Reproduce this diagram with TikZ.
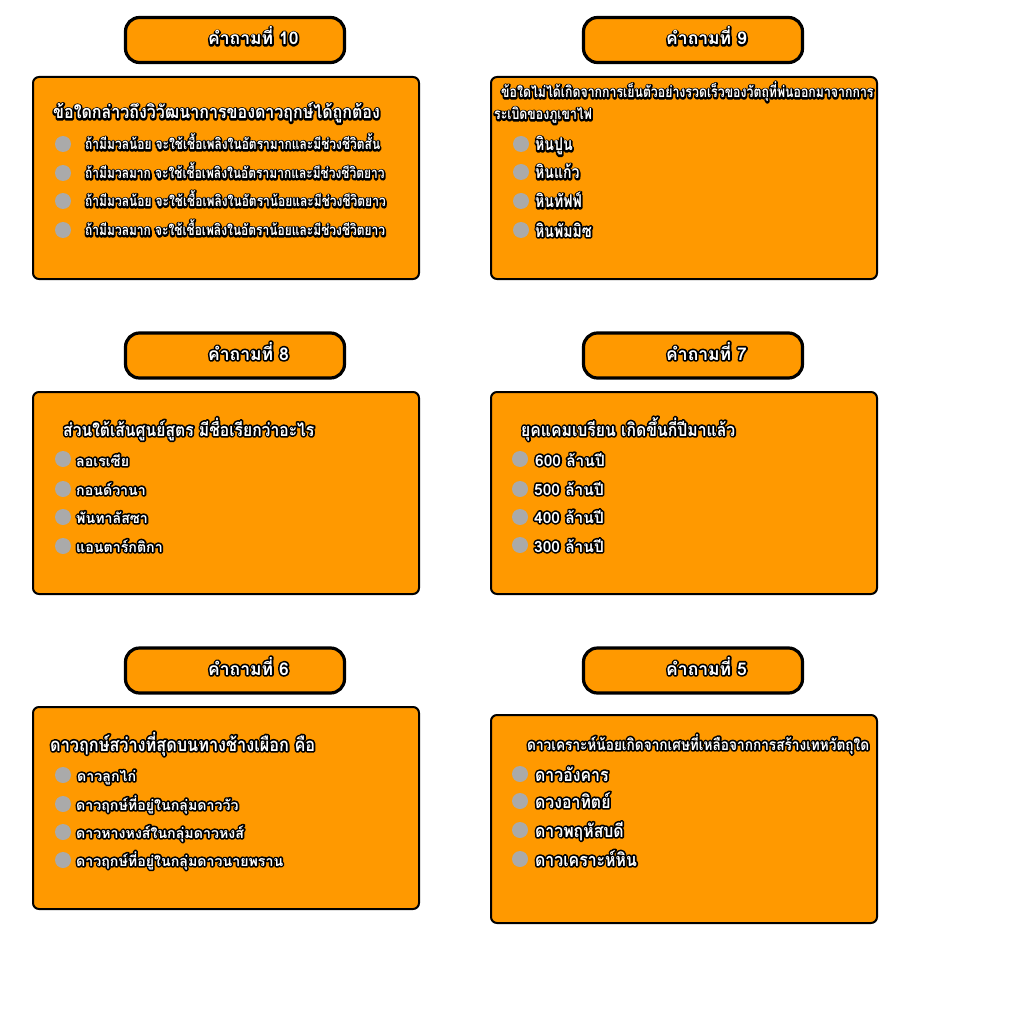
\documentclass[tikz,border=0pt]{standalone}
\usepackage{fontspec}
\newfontfamily\thaifont[Script=Thai]{Loma}
\newfontfamily\thainarrow[Script=Thai, FakeStretch=0.88]{Loma}
\newfontfamily\thaicond[Script=Thai, FakeStretch=0.8]{Loma}
\definecolor{quizorange}{HTML}{FF9900}
\definecolor{dotgrey}{HTML}{AAAAAA}
\tikzset{
	titlebox/.style={draw=black, line width=3.2pt, fill=quizorange, rounded corners=14pt, minimum width=219pt, minimum height=45pt, inner sep=0pt},
	quizbox/.style={draw=black, line width=2pt, fill=quizorange, rounded corners=6pt, minimum width=386pt, inner sep=0pt},
	radiodot/.style={circle, fill=dotgrey, inner sep=0pt, minimum size=16pt},
	ttext/.style={anchor=base west, inner sep=0pt, text=white, font=\thaifont\bfseries\fontsize{17.5}{20}\selectfont},
	qtext/.style={anchor=base west, inner sep=0pt, text=white, font=\thainarrow\bfseries\fontsize{#1}{20}\selectfont},
	qtext/.default=18,
	otext/.style={anchor=base west, inner sep=0pt, text=white, font=\thaifont\bfseries\fontsize{#1}{18}\selectfont},
	otext/.default=14.2,
	ntext/.style={anchor=base west, inner sep=0pt, text=white, font=\thainarrow\bfseries\fontsize{#1}{18}\selectfont},
	ctext/.style={anchor=base west, inner sep=0pt, text=white, font=\thaicond\bfseries\fontsize{#1}{18}\selectfont}
}
% black stroked copy under the white text
\newcommand\outl[1]{\rlap{\special{pdf:literal direct 0 G 1 Tr 3.4 w 1 j 1 J}#1\special{pdf:literal direct 0 Tr}}#1}

\begin{document}
\begin{tikzpicture}[x=1pt, y=-1pt]
	\useasboundingbox (0,0) rectangle (1024,1024);
	\fill[white] (0,0) rectangle (1024,1024);
	
	%%%%% QUESTION 10 %%%%%
	\node[titlebox] (title10) at (235, 40) {};
	\node[ttext] (head10) at (208, 45) {\outl{คำถามที่ 10}};
	\node[quizbox, minimum height=202pt] (box10) at (226, 178) {};
	\node[qtext=18.2] (q10) at (53, 119) {\outl{ข้อใดกล่าวถึงวิวัฒนาการของดาวฤกษ์ได้ถูกต้อง}};
	\node[radiodot] (dot10a) at (63, 144) {};
	\node[radiodot] (dot10b) at (63, 173) {};
	\node[radiodot] (dot10c) at (63, 201) {};
	\node[radiodot] (dot10d) at (63, 230) {};
	\node[ctext=15] (opt10a) at (85, 150) {\outl{ถ้ามีมวลน้อย จะใช้เชื้อเพลิงในอัตรามากและมีช่วงชีวิตสั้น}};
	\node[ctext=15] (opt10b) at (85, 179) {\outl{ถ้ามีมวลมาก จะใช้เชื้อเพลิงในอัตรามากและมีช่วงชีวิตยาว}};
	\node[ctext=15] (opt10c) at (85, 207) {\outl{ถ้ามีมวลน้อย จะใช้เชื้อเพลิงในอัตราน้อยและมีช่วงชีวิตยาว}};
	\node[ctext=15] (opt10d) at (85, 236) {\outl{ถ้ามีมวลมาก จะใช้เชื้อเพลิงในอัตราน้อยและมีช่วงชีวิตยาว}};
	
	%%%%% QUESTION 9 %%%%%
	\node[titlebox] (title9) at (693, 40) {};
	\node[ttext] (head9) at (666, 45) {\outl{คำถามที่ 9}};
	\node[quizbox, minimum height=202pt] (box9) at (684, 178) {};
	\node[ctext=15.4] (q9a) at (501, 98) {\outl{ข้อใดไม่ได้เกิดจากการเย็นตัวอย่างรวดเร็วของวัตถุที่พ่นออกมาจากการ}};
	\node[ctext=15.4] (q9b) at (494, 120) {\outl{ระเบิดของภูเขาไฟ}};
	\node[radiodot] (dot9a) at (521, 144) {};
	\node[radiodot] (dot9b) at (521, 172) {};
	\node[radiodot] (dot9c) at (521, 201) {};
	\node[radiodot] (dot9d) at (521, 230) {};
	\node[ctext=17.6] (opt9a) at (535, 151) {\outl{หินปูน}};
	\node[ctext=17.6] (opt9b) at (535, 179) {\outl{หินแก้ว}};
	\node[ctext=17.6] (opt9c) at (535, 208) {\outl{หินทัฟฟ์}};
	\node[ctext=17.6] (opt9d) at (535, 237) {\outl{หินพัมมิซ}};
	
	%%%%% QUESTION 8 %%%%%
	\node[titlebox] (title8) at (235, 355.5) {};
	\node[ttext] (head8) at (208, 360) {\outl{คำถามที่ 8}};
	\node[quizbox, minimum height=202pt] (box8) at (226, 493) {};
	\node[qtext=17.8] (q8) at (63, 436) {\outl{ส่วนใต้เส้นศูนย์สูตร มีชื่อเรียกว่าอะไร}};
	\node[radiodot] (dot8a) at (63, 459) {};
	\node[radiodot] (dot8b) at (63, 489) {};
	\node[radiodot] (dot8c) at (63, 517) {};
	\node[radiodot] (dot8d) at (63, 546) {};
	\node[otext] (opt8a) at (76, 466) {\outl{ลอเรเซีย}};
	\node[otext] (opt8b) at (76, 495) {\outl{กอนด์วานา}};
	\node[otext] (opt8c) at (76, 523) {\outl{พันทาลัสซา}};
	\node[otext] (opt8d) at (76, 552) {\outl{แอนตาร์กติกา}};
	
	%%%%% QUESTION 7 %%%%%
	\node[titlebox] (title7) at (693, 355.5) {};
	\node[ttext] (head7) at (666, 360) {\outl{คำถามที่ 7}};
	\node[quizbox, minimum height=202pt] (box7) at (684, 493) {};
	\node[qtext=17.9] (q7) at (521, 436) {\outl{ยุคแคมเบรียน เกิดขึ้นกี่ปีมาแล้ว}};
	\node[radiodot] (dot7a) at (520, 459) {};
	\node[radiodot] (dot7b) at (520, 489) {};
	\node[radiodot] (dot7c) at (520, 517) {};
	\node[radiodot] (dot7d) at (520, 545) {};
	\node[otext=15.5] (opt7a) at (535, 466) {\outl{600 ล้านปี}};
	\node[otext=15.5] (opt7b) at (534, 495) {\outl{500 ล้านปี}};
	\node[otext=15.5] (opt7c) at (534, 523) {\outl{400 ล้านปี}};
	\node[otext=15.5] (opt7d) at (534, 552) {\outl{300 ล้านปี}};
	
	%%%%% QUESTION 6 %%%%%
	\node[titlebox] (title6) at (235, 670.5) {};
	\node[ttext] (head6) at (208, 675) {\outl{คำถามที่ 6}};
	\node[quizbox, minimum height=202pt] (box6) at (226, 808) {};
	\node[qtext=18.5] (q6) at (50, 751) {\outl{ดาวฤกษ์สว่างที่สุดบนทางช้างเผือก คือ}};
	\node[radiodot] (dot6a) at (63, 775) {};
	\node[radiodot] (dot6b) at (63, 804) {};
	\node[radiodot] (dot6c) at (63, 832) {};
	\node[radiodot] (dot6d) at (63, 860) {};
	\node[otext] (opt6a) at (77, 781) {\outl{ดาวลูกไก่}};
	\node[otext] (opt6b) at (76, 810) {\outl{ดาวฤกษ์ที่อยู่ในกลุ่มดาววัว}};
	\node[otext] (opt6c) at (76, 838) {\outl{ดาวหางหงส์ในกลุ่มดาวหงส์}};
	\node[otext] (opt6d) at (76, 866) {\outl{ดาวฤกษ์ที่อยู่ในกลุ่มดาวนายพราน}};
	
	%%%%% QUESTION 5 %%%%%
	\node[titlebox] (title5) at (693, 670.5) {};
	\node[ttext] (head5) at (666, 675) {\outl{คำถามที่ 5}};
	\node[quizbox, minimum height=208pt] (box5) at (684, 819) {};
	\node[qtext=15.5] (q5) at (527, 750) {\outl{ดาวเคราะห์น้อยเกิดจากเศษที่เหลือจากการสร้างเทหวัตถุใด}};
	\node[radiodot] (dot5a) at (520, 774) {};
	\node[radiodot] (dot5b) at (520, 801) {};
	\node[radiodot] (dot5c) at (520, 830) {};
	\node[radiodot] (dot5d) at (520, 859) {};
	\node[ntext=18] (opt5a) at (535, 781) {\outl{ดาวอังคาร}};
	\node[ntext=18] (opt5b) at (535, 808) {\outl{ดวงอาทิตย์}};
	\node[ntext=18] (opt5c) at (535, 837) {\outl{ดาวพฤหัสบดี}};
	\node[ntext=18] (opt5d) at (535, 866) {\outl{ดาวเคราะห์หิน}};
\end{tikzpicture}
\end{document}
